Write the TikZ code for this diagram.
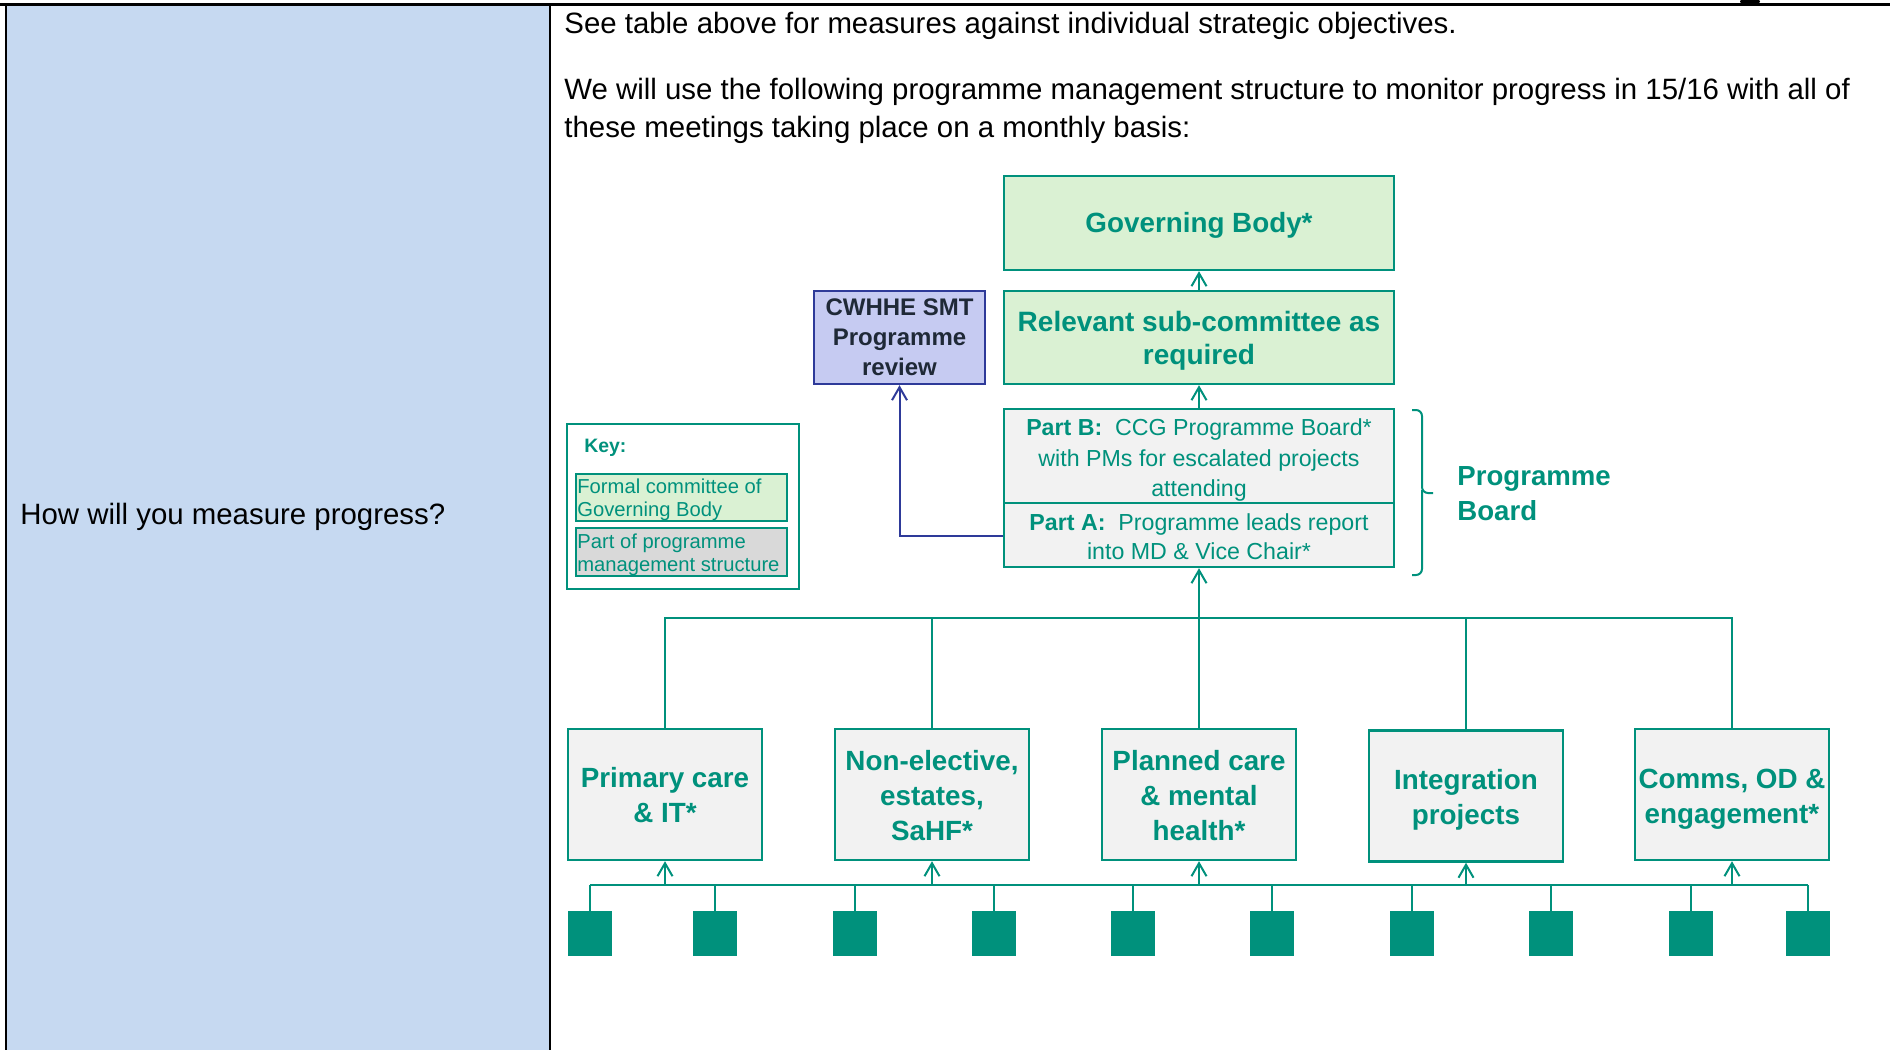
\documentclass[tikz,border=0pt]{standalone}
\usepackage{fontspec}
\setmainfont{Liberation Sans}
\usetikzlibrary{arrows.meta}
\definecolor{tealc}{HTML}{00917C}
\definecolor{colblue}{HTML}{C6D9F1}
\definecolor{lgreen}{HTML}{DAF1D3}
\definecolor{lgrey}{HTML}{F2F2F2}
\definecolor{kgrey}{HTML}{D9D9D9}
\definecolor{lav}{HTML}{C6CBF2}
\definecolor{navy}{HTML}{2E3A99}
\definecolor{darktxt}{HTML}{1F2937}
\begin{document}
\begin{tikzpicture}[x=0.5pt,y=-0.5pt,
  bodytext/.style={inner sep=0pt, font=\fontsize{14.7}{19}\selectfont},
  greenbox/.style={draw=tealc, line width=1.2pt, fill=lgreen, inner sep=0pt, text=tealc, align=center},
  greybox/.style={draw=tealc, line width=1.2pt, fill=lgrey, inner sep=0pt, text=tealc, align=center},
  unitbox/.style={greybox, minimum width=97pt, minimum height=65.5pt},
  unittext/.style={inner sep=0pt, text=tealc, align=center, font=\bfseries\fontsize{13.9}{17.5}\selectfont},
  sqbox/.style={fill=tealc, inner sep=0pt, minimum width=22pt, minimum height=22.5pt},
  conn/.style={draw=tealc, line width=1pt},
  arr/.style={-{Straight Barb[length=6.5pt,width=7.5pt]}},
]
\useasboundingbox (0,0) rectangle (1890,1050);
% table
\fill[colblue] (7,6) rectangle (549,1050);
\draw[line width=1.5pt] (0,4) -- (1890,4);
\draw[line width=1pt] (6,4) -- (6,1050);
\draw[line width=1pt] (550,4) -- (550,1050);
\fill (1750,1.5) ellipse (10 and 3.5);
\node[bodytext, anchor=base west] (t1) at (564,33.5) {See table above for measures against individual strategic objectives.};
\node[bodytext, anchor=base west] (t2) at (564,99) {We will use the following programme management structure to monitor progress in 15/16 with all of};
\node[bodytext, anchor=base west] (t3) at (564,137) {these meetings taking place on a monthly basis:};
\node[bodytext, anchor=base west] (q) at (20,524) {How will you measure progress?};

% upper boxes
\node[greenbox, minimum width=195pt, minimum height=47pt] (gb) at (1199,223) {};
\node[inner sep=0pt, text=tealc, font=\bfseries\fontsize{13.9}{17}\selectfont] (gbt) at (1199,225.5) {Governing Body*};
\node[greenbox, minimum width=195pt, minimum height=46.5pt] (rs) at (1199,337.5) {};
\node[inner sep=0pt, text=tealc, align=center, font=\bfseries\fontsize{14}{16.5}\selectfont] (rst) at (1199,340.5) {Relevant sub-committee as\\required};
\node[draw=navy, line width=1.2pt, fill=lav, inner sep=0pt, minimum width=85.5pt, minimum height=46.5pt, align=center, text=darktxt, font=\bfseries\fontsize{12}{15}\selectfont] (cw) at (899.5,337.5) {CWHHE SMT\\Programme\\review};
\node[greybox, minimum width=195pt, minimum height=47pt] (pb) at (1199,456) {};
\node[inner sep=0pt, text=tealc, align=center, font=\fontsize{11.6}{15.2}\selectfont] (pbt) at (1199,460) {\textbf{Part B:}\ \ CCG Programme Board*\\with PMs for escalated projects\\attending};
\node[greybox, minimum width=195pt, minimum height=32pt] (pa) at (1199,535) {};
\node[inner sep=0pt, text=tealc, align=center, font=\fontsize{11.6}{14.5}\selectfont] (pat) at (1199,537) {\textbf{Part A:}\ \ Programme leads report\\into MD \& Vice Chair*};

% brace and label
\draw[tealc, line width=1pt, rounded corners=3pt] (1412,410) -- (1422,410) -- (1422,493) -- (1433,493);
\draw[tealc, line width=1pt, rounded corners=3pt] (1422,490) -- (1422,575) -- (1412,575);
\node[anchor=west, inner sep=0pt, align=left, text=tealc, font=\bfseries\fontsize{13.8}{17.5}\selectfont] (pbl) at (1457,494) {Programme\\Board};

% key
\node[draw=tealc, line width=1.3pt, fill=white, minimum width=116pt, minimum height=82.5pt, inner sep=0pt] (key) at (683,506.5) {};
\node[anchor=base west, inner sep=0pt, text=tealc, font=\bfseries\fontsize{9.7}{11}\selectfont] (keyl) at (584,452) {Key:};
\node[draw=tealc, line width=1pt, fill=lgreen, minimum width=105.5pt, minimum height=23.5pt, inner sep=0pt] (kg) at (681.5,497.5) {};
\node[anchor=west, inner sep=0pt, align=left, text=tealc, font=\fontsize{10.1}{11.5}\selectfont] (kgt) at (577,500) {Formal committee of\\Governing Body};
\node[draw=tealc, line width=1pt, fill=kgrey, minimum width=105.5pt, minimum height=24pt, inner sep=0pt] (kr) at (681.5,552) {};
\node[anchor=west, inner sep=0pt, align=left, text=tealc, font=\fontsize{10.1}{11.5}\selectfont] (krt) at (577,554.5) {Part of programme\\management structure};

% unit boxes
\node[unitbox] (u1) at (665,794.5) {};
\node[unittext] (u1t) at (665,795.5) {Primary care\\\& IT*};
\node[unitbox] (u2) at (932,794.5) {};
\node[unittext] (u2t) at (932,795.5) {Non-elective,\\estates,\\SaHF*};
\node[unitbox] (u3) at (1199,794.5) {};
\node[unittext] (u3t) at (1199,795.5) {Planned care\\\& mental\\health*};
\node[unitbox] (u4) at (1466,796) {};
\node[unittext] (u4t) at (1466,800) {Integration\\projects};
\node[unitbox] (u5) at (1732,794.5) {};
\node[unittext] (u5t) at (1732,799) {Comms, OD \&\\engagement*};

% squares
\foreach \n/\x in {1/590,2/715,3/854.5,4/994,5/1132.5,6/1272,7/1411.5,8/1551,9/1690.5,10/1807.5}
  \node[sqbox] (s\n) at (\x,933.5) {};

% connectors
\draw[conn, draw=navy, arr] (pa.west |- 0,536) -| (cw.south);
\draw[conn, arr] (rs.north) -- (gb.south);
\draw[conn, arr] (pb.north) -- (rs.south);
\coordinate (topbus) at (0,618);
\foreach \u in {u1,u2,u4,u5}
  \draw[conn] (\u.north) |- (topbus -| pa.south);
\draw[conn, arr] (u3.north) -- (pa.south);

\coordinate (botbus) at (0,885);
\draw[conn] (s1.north |- botbus) -- (s10.north |- botbus);
\foreach \n in {1,...,10}
  \draw[conn] (s\n.north) -- (s\n.north |- botbus);
\foreach \u in {u1,u2,u3,u4,u5}
  \draw[conn, arr] (\u.south |- botbus) -- (\u.south);
\end{tikzpicture}
\end{document}
